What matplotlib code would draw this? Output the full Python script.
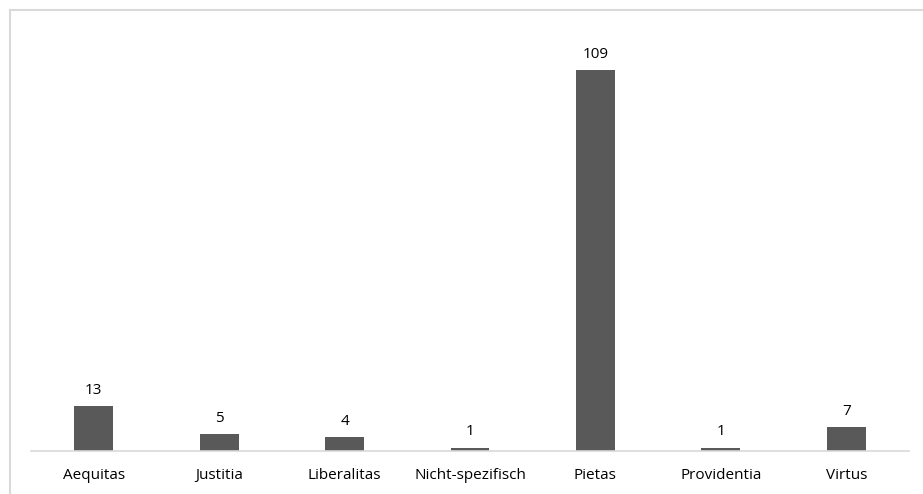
import matplotlib.pyplot as plt
from matplotlib.patches import Rectangle

categories = ['Aequitas', 'Justitia', 'Liberalitas', 'Nicht-spezifisch', 'Pietas', 'Providentia', 'Virtus']
counts = [13, 5, 4, 1, 109, 1, 7]

plt.rcParams['font.family'] = ['Open Sans', 'DejaVu Sans']

W, H = 923, 494
fig = plt.figure(figsize=(W / 100, H / 100), dpi=100)

# light frame around the chart area (top and left edges visible)
fig.patches.append(Rectangle((9.5 / W, -0.1), 1.2, 1 - 9.5 / H + 0.1, transform=fig.transFigure,
                             fill=False, edgecolor='#d9d9d9', linewidth=1.5))

ax = fig.add_axes([31 / W, 1 - 451 / H, (909 - 31) / W, (451 - 32) / H])
x = range(len(categories))
bars = ax.bar(x, counts, width=0.31, color='#595959')
for b, v in zip(bars, counts):
    ax.text(b.get_x() + b.get_width() / 2, v + 2.3, str(v), ha='center', va='bottom',
            fontsize=11, color='#000000')

ax.set_xlim(-0.5, len(categories) - 0.5)
ax.set_ylim(0, 120)
ax.set_xticks(list(x))
ax.set_xticklabels(categories, fontsize=11, color='#000000')
ax.tick_params(axis='x', length=0, pad=12)
ax.set_yticks([])
for s in ['top', 'left', 'right']:
    ax.spines[s].set_visible(False)
ax.spines['bottom'].set_color('#d9d9d9')
ax.spines['bottom'].set_linewidth(1.2)

fig.savefig('out.png', dpi=100)
